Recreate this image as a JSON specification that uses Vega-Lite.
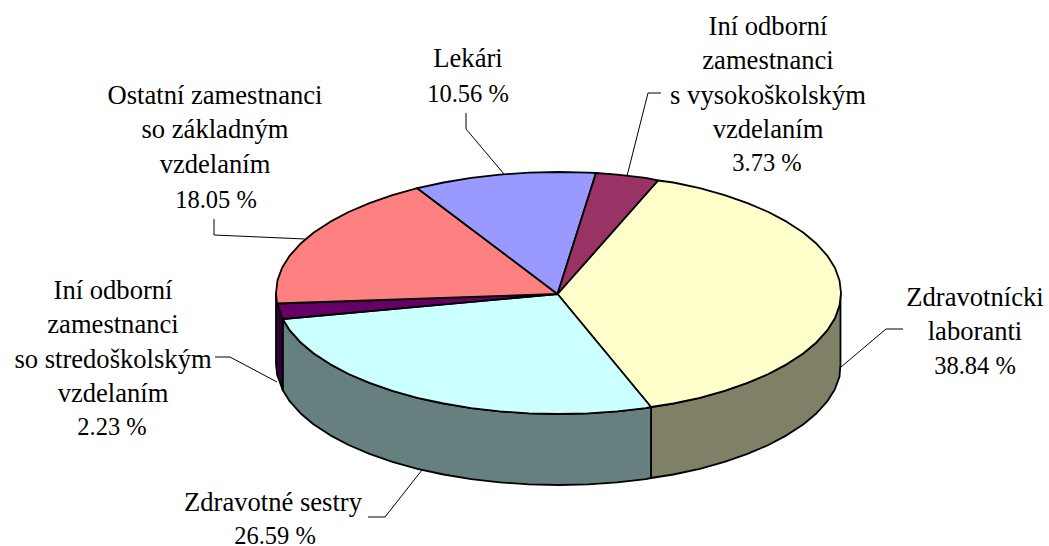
{"$schema":"https://vega.github.io/schema/vega-lite/v6.json","width":1049,"height":546,"padding":0,"autosize":"none","background":"white","view":{"stroke":null},
"datasets":{"labels":[
{"name":"Lekári","share":"10.56 %","x":468,"y":58,"xShare":468,"yShare":93},
{"name":"Iní odborní\nzamestnanci\ns vysokoškolským\nvzdelaním","share":"3.73 %","x":768,"y":26,"xShare":767,"yShare":162},
{"name":"Zdravotnícki\nlaboranti","share":"38.84 %","x":975,"y":297,"xShare":975,"yShare":365},
{"name":"Zdravotné sestry","share":"26.59 %","x":273,"y":502,"xShare":275,"yShare":535},
{"name":"Iní odborní\nzamestnanci\nso stredoškolským\nvzdelaním","share":"2.23 %","x":113,"y":290,"xShare":112,"yShare":426},
{"name":"Ostatní zamestnanci\nso základným\nvzdelaním","share":"18.05 %","x":215,"y":95,"xShare":216,"yShare":199}
]},
"layer":[
{"data":{"values":[
{"part":"bok laboranti","x":840.5,"y":293},{"part":"bok laboranti","x":839.5,"y":305.6},{"part":"bok laboranti","x":834.9,"y":318.2},{"part":"bok laboranti","x":827.2,"y":330.4},{"part":"bok laboranti","x":816.6,"y":342.2},{"part":"bok laboranti","x":803.2,"y":353.5},{"part":"bok laboranti","x":787,"y":364.1},{"part":"bok laboranti","x":768.4,"y":374},{"part":"bok laboranti","x":747.5,"y":382.9},{"part":"bok laboranti","x":724.6,"y":390.9},{"part":"bok laboranti","x":699.8,"y":397.8},{"part":"bok laboranti","x":673.4,"y":403.5},{"part":"bok laboranti","x":651,"y":407},{"part":"bok laboranti","x":651,"y":478},{"part":"bok laboranti","x":673.4,"y":474.5},{"part":"bok laboranti","x":699.8,"y":468.8},{"part":"bok laboranti","x":724.6,"y":461.9},{"part":"bok laboranti","x":747.5,"y":453.9},{"part":"bok laboranti","x":768.4,"y":445},{"part":"bok laboranti","x":787,"y":435.1},{"part":"bok laboranti","x":803.2,"y":424.5},{"part":"bok laboranti","x":816.6,"y":413.2},{"part":"bok laboranti","x":827.2,"y":401.4},{"part":"bok laboranti","x":834.9,"y":389.2},{"part":"bok laboranti","x":839.5,"y":376.6},{"part":"bok laboranti","x":840.5,"y":364},{"part":"bok laboranti","x":840.5,"y":293},
{"part":"bok sestry","x":651,"y":407},{"part":"bok sestry","x":645.8,"y":408.1},{"part":"bok sestry","x":617.2,"y":411.4},{"part":"bok sestry","x":588.1,"y":413.3},{"part":"bok sestry","x":558.5,"y":414},{"part":"bok sestry","x":528.9,"y":413.3},{"part":"bok sestry","x":499.8,"y":411.4},{"part":"bok sestry","x":471.2,"y":408.1},{"part":"bok sestry","x":443.6,"y":403.5},{"part":"bok sestry","x":417.3,"y":397.8},{"part":"bok sestry","x":392.4,"y":390.9},{"part":"bok sestry","x":369.5,"y":382.9},{"part":"bok sestry","x":348.6,"y":374},{"part":"bok sestry","x":330,"y":364.1},{"part":"bok sestry","x":313.8,"y":353.5},{"part":"bok sestry","x":300.4,"y":342.2},{"part":"bok sestry","x":289.8,"y":330.4},{"part":"bok sestry","x":282.7,"y":319},{"part":"bok sestry","x":282.7,"y":390},{"part":"bok sestry","x":289.8,"y":401.4},{"part":"bok sestry","x":300.4,"y":413.2},{"part":"bok sestry","x":313.8,"y":424.5},{"part":"bok sestry","x":330,"y":435.1},{"part":"bok sestry","x":348.6,"y":445},{"part":"bok sestry","x":369.5,"y":453.9},{"part":"bok sestry","x":392.4,"y":461.9},{"part":"bok sestry","x":417.3,"y":468.8},{"part":"bok sestry","x":443.6,"y":474.5},{"part":"bok sestry","x":471.2,"y":479.1},{"part":"bok sestry","x":499.8,"y":482.4},{"part":"bok sestry","x":528.9,"y":484.3},{"part":"bok sestry","x":558.5,"y":485},{"part":"bok sestry","x":588.1,"y":484.3},{"part":"bok sestry","x":617.2,"y":482.4},{"part":"bok sestry","x":645.8,"y":479.1},{"part":"bok sestry","x":651,"y":478},{"part":"bok sestry","x":651,"y":407},
{"part":"bok stredoskolsky","x":282.7,"y":319},{"part":"bok stredoskolsky","x":277,"y":303.5},{"part":"bok stredoskolsky","x":276,"y":293},{"part":"bok stredoskolsky","x":276,"y":364},{"part":"bok stredoskolsky","x":277,"y":374.5},{"part":"bok stredoskolsky","x":282.7,"y":390},{"part":"bok stredoskolsky","x":282.7,"y":319},
{"part":"laboranti","x":557.5,"y":294},{"part":"laboranti","x":658,"y":180.5},{"part":"laboranti","x":673.4,"y":182.5},{"part":"laboranti","x":699.8,"y":188.2},{"part":"laboranti","x":724.6,"y":195.1},{"part":"laboranti","x":747.5,"y":203.1},{"part":"laboranti","x":768.4,"y":212},{"part":"laboranti","x":787,"y":221.9},{"part":"laboranti","x":803.2,"y":232.5},{"part":"laboranti","x":816.6,"y":243.8},{"part":"laboranti","x":827.2,"y":255.6},{"part":"laboranti","x":834.9,"y":267.8},{"part":"laboranti","x":839.5,"y":280.4},{"part":"laboranti","x":841,"y":293},{"part":"laboranti","x":839.5,"y":305.6},{"part":"laboranti","x":834.9,"y":318.2},{"part":"laboranti","x":827.2,"y":330.4},{"part":"laboranti","x":816.6,"y":342.2},{"part":"laboranti","x":803.2,"y":353.5},{"part":"laboranti","x":787,"y":364.1},{"part":"laboranti","x":768.4,"y":374},{"part":"laboranti","x":747.5,"y":382.9},{"part":"laboranti","x":724.6,"y":390.9},{"part":"laboranti","x":699.8,"y":397.8},{"part":"laboranti","x":673.4,"y":403.5},{"part":"laboranti","x":651,"y":407},{"part":"laboranti","x":557.5,"y":294},
{"part":"sestry","x":557.5,"y":294},{"part":"sestry","x":651,"y":407},{"part":"sestry","x":645.8,"y":408.1},{"part":"sestry","x":617.2,"y":411.4},{"part":"sestry","x":588.1,"y":413.3},{"part":"sestry","x":558.5,"y":414},{"part":"sestry","x":528.9,"y":413.3},{"part":"sestry","x":499.8,"y":411.4},{"part":"sestry","x":471.2,"y":408.1},{"part":"sestry","x":443.6,"y":403.5},{"part":"sestry","x":417.3,"y":397.8},{"part":"sestry","x":392.4,"y":390.9},{"part":"sestry","x":369.5,"y":382.9},{"part":"sestry","x":348.6,"y":374},{"part":"sestry","x":330,"y":364.1},{"part":"sestry","x":313.8,"y":353.5},{"part":"sestry","x":300.4,"y":342.2},{"part":"sestry","x":289.8,"y":330.4},{"part":"sestry","x":282.7,"y":319},{"part":"sestry","x":557.5,"y":294},
{"part":"stredoskolsky","x":557.5,"y":294},{"part":"stredoskolsky","x":282.7,"y":319},{"part":"stredoskolsky","x":277,"y":303.5},{"part":"stredoskolsky","x":557.5,"y":294},
{"part":"zakladny","x":557.5,"y":294},{"part":"zakladny","x":277,"y":303.5},{"part":"zakladny","x":276,"y":293},{"part":"zakladny","x":277.5,"y":280.4},{"part":"zakladny","x":282.1,"y":267.8},{"part":"zakladny","x":289.8,"y":255.6},{"part":"zakladny","x":300.4,"y":243.8},{"part":"zakladny","x":313.8,"y":232.5},{"part":"zakladny","x":330,"y":221.9},{"part":"zakladny","x":348.6,"y":212},{"part":"zakladny","x":369.5,"y":203.1},{"part":"zakladny","x":392.4,"y":195.1},{"part":"zakladny","x":417.3,"y":188.2},{"part":"zakladny","x":557.5,"y":294},
{"part":"lekari","x":557.5,"y":294},{"part":"lekari","x":417.3,"y":188.2},{"part":"lekari","x":443.6,"y":182.5},{"part":"lekari","x":471.2,"y":177.9},{"part":"lekari","x":499.8,"y":174.6},{"part":"lekari","x":528.9,"y":172.7},{"part":"lekari","x":558.5,"y":172},{"part":"lekari","x":588.1,"y":172.7},{"part":"lekari","x":596,"y":173},{"part":"lekari","x":557.5,"y":294},
{"part":"vysokoskolsky","x":557.5,"y":294},{"part":"vysokoskolsky","x":596,"y":173},{"part":"vysokoskolsky","x":617.2,"y":174.6},{"part":"vysokoskolsky","x":645.8,"y":177.9},{"part":"vysokoskolsky","x":658,"y":180.5},{"part":"vysokoskolsky","x":557.5,"y":294}
]},
"transform":[{"window":[{"op":"row_number","as":"i"}]}],
"mark":{"type":"line","stroke":"black","strokeWidth":1.8,"strokeJoin":"round"},
"encoding":{"x":{"field":"x","type":"quantitative","axis":null,"scale":{"domain":[0,1049],"nice":false,"zero":false}},"y":{"field":"y","type":"quantitative","axis":null,"scale":{"domain":[0,546],"reverse":true,"nice":false,"zero":false}},"order":{"field":"i"},"fill":{"field":"part","type":"nominal","legend":null,"scale":{"domain":["bok laboranti","bok sestry","bok stredoskolsky","laboranti","sestry","stredoskolsky","zakladny","lekari","vysokoskolsky"],"range":["#808066","#668080","#330033","#FFFFCC","#CCFFFF","#660066","#FF8080","#9999FF","#993366"]}}}},
{"data":{"values":[
{"leader":"lekari","x":466,"y":113},{"leader":"lekari","x":466,"y":129},{"leader":"lekari","x":504,"y":174},
{"leader":"vys","x":661,"y":93},{"leader":"vys","x":648,"y":93},{"leader":"vys","x":627,"y":176},
{"leader":"lab","x":903,"y":329},{"leader":"lab","x":886,"y":329},{"leader":"lab","x":841,"y":367},
{"leader":"ses","x":368,"y":517},{"leader":"ses","x":385,"y":517},{"leader":"ses","x":422,"y":470},
{"leader":"str","x":215,"y":357},{"leader":"str","x":230,"y":357},{"leader":"str","x":277,"y":382},
{"leader":"zak","x":214,"y":219},{"leader":"zak","x":214,"y":235},{"leader":"zak","x":305,"y":239}
]},
"transform":[{"window":[{"op":"row_number","as":"i"}]}],
"mark":{"type":"line","stroke":"black","strokeWidth":1},
"encoding":{"x":{"field":"x","type":"quantitative","axis":null,"scale":{"domain":[0,1049],"nice":false,"zero":false}},"y":{"field":"y","type":"quantitative","axis":null,"scale":{"domain":[0,546],"reverse":true,"nice":false,"zero":false}},"order":{"field":"i"},"detail":{"field":"leader"}}},
{"data":{"name":"labels"},
"mark":{"type":"text","font":"Liberation Serif","fontSize":26.6,"lineBreak":"\n","lineHeight":34.4,"align":"center","baseline":"middle","dy":1,"color":"black"},
"encoding":{"x":{"field":"x","type":"quantitative","axis":null,"scale":{"domain":[0,1049],"nice":false,"zero":false}},"y":{"field":"y","type":"quantitative","axis":null,"scale":{"domain":[0,546],"reverse":true,"nice":false,"zero":false}},"text":{"field":"name"}}},
{"data":{"name":"labels"},
"mark":{"type":"text","font":"Liberation Serif","fontSize":24.5,"align":"center","baseline":"middle","dy":2,"color":"black"},
"encoding":{"x":{"field":"xShare","type":"quantitative","axis":null,"scale":{"domain":[0,1049],"nice":false,"zero":false}},"y":{"field":"yShare","type":"quantitative","axis":null,"scale":{"domain":[0,546],"reverse":true,"nice":false,"zero":false}},"text":{"field":"share"}}}
]}
